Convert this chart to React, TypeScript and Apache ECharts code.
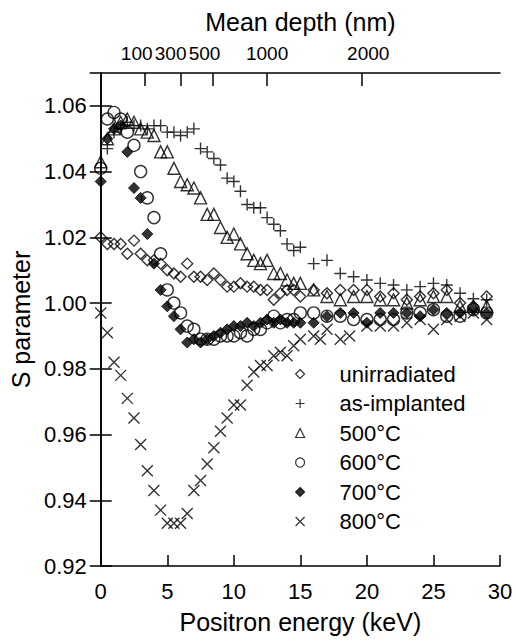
import { useEffect, useRef } from 'react';
import * as echarts from 'echarts';

// Positron energy (keV) vs S parameter
const unirradiated: number[][] = [
  [0, 1.020], [0.5, 1.018], [1, 1.018], [1.5, 1.018], [2, 1.015], [2.5, 1.019], [3, 1.015], [3.5, 1.013],
  [4, 1.013], [4.5, 1.012], [5, 1.010], [5.5, 1.009], [6, 1.008], [6.5, 1.012], [7, 1.008], [7.5, 1.008],
  [8, 1.007], [8.5, 1.009], [9, 1.007], [9.5, 1.005], [10, 1.005], [10.5, 1.006], [11, 1.005], [11.5, 1.005],
  [12, 1.004], [12.5, 1.004], [13, 1.001], [13.5, 1.003], [14, 1.004], [14.5, 1.004], [15, 1.002], [16, 1.004],
  [17, 1.003], [18, 1.004], [19, 1.004], [20, 1.004], [21, 1.002], [22, 1.003], [23, 1.001], [24, 1.002],
  [25, 1.003], [26, 1.004], [27, 1.000], [28, 0.999], [29, 1.002],
];
const asImplanted: number[][] = [
  [0.5, 1.047], [1, 1.052], [1.5, 1.053], [2, 1.055], [2.5, 1.054], [3, 1.054], [3.5, 1.053], [4, 1.054],
  [4.5, 1.054], [5, 1.052], [5.5, 1.052], [6, 1.051], [6.5, 1.052], [7, 1.053], [7.5, 1.047], [8, 1.046],
  [8.5, 1.044], [9, 1.042], [9.5, 1.038], [10, 1.037], [10.5, 1.034], [11, 1.030], [11.5, 1.029], [12, 1.029],
  [12.5, 1.026], [13, 1.024], [13.5, 1.022], [14, 1.018], [14.5, 1.016], [15, 1.017], [16, 1.012], [17, 1.013],
  [18, 1.009], [19, 1.008], [20, 1.007], [21, 1.006], [22, 1.0055], [23, 1.004], [24, 1.005], [25, 1.006],
  [26, 1.0055], [27, 1.003], [28, 1.0013], [29, 1.001],
];
const annealed500: number[][] = [
  [0, 1.043], [0.5, 1.050], [1, 1.053], [1.5, 1.055], [2, 1.056], [2.5, 1.055], [3, 1.053], [3.5, 1.052],
  [4, 1.051], [4.5, 1.046], [5, 1.046], [5.5, 1.041], [6, 1.037], [6.5, 1.036], [7, 1.035], [7.5, 1.032],
  [8, 1.027], [8.5, 1.027], [9, 1.023], [9.5, 1.020], [10, 1.021], [10.5, 1.018], [11, 1.015], [11.5, 1.013],
  [12, 1.012], [12.5, 1.013], [13, 1.009], [13.5, 1.009], [14, 1.007], [14.5, 1.006], [15, 1.006], [16, 1.004],
  [17, 1.002], [18, 1.001], [19, 1.002], [20, 1.002], [21, 1.001], [22, 1.001], [23, 1.000], [24, 1.001],
  [25, 1.002], [26, 1.002], [27, 0.999], [28, 0.999], [29, 0.999],
];
const annealed600: number[][] = [
  [0, 1.041], [0.5, 1.056], [1, 1.058], [1.5, 1.056], [2, 1.052], [2.5, 1.048], [3, 1.040], [3.5, 1.032],
  [4, 1.026], [4.5, 1.015], [5, 1.004], [5.5, 1.000], [6, 0.997], [6.5, 0.993], [7, 0.992], [7.5, 0.989],
  [8, 0.989], [8.5, 0.989], [9, 0.990], [9.5, 0.990], [10, 0.990], [10.5, 0.991], [11, 0.990], [11.5, 0.992],
  [12, 0.992], [12.5, 0.994], [13, 0.996], [13.5, 0.994], [14, 0.995], [14.5, 0.995], [15, 0.997], [16, 0.997],
  [17, 0.996], [18, 0.996], [19, 0.995], [20, 0.995], [21, 0.995], [22, 0.995], [23, 0.997], [24, 0.997],
  [25, 0.998], [26, 0.996], [27, 0.996], [28, 0.998], [29, 0.997],
];
const annealed700: number[][] = [
  [0, 1.037], [0.5, 1.050], [1, 1.053], [1.5, 1.054], [2, 1.046], [2.5, 1.035], [3, 1.032], [3.5, 1.021],
  [4, 1.012], [4.5, 1.004], [5, 0.999], [5.5, 0.996], [6, 0.992], [6.5, 0.988], [7, 0.989], [7.5, 0.988],
  [8, 0.989], [8.5, 0.990], [9, 0.991], [9.5, 0.992], [10, 0.993], [10.5, 0.993], [11, 0.994], [11.5, 0.993],
  [12, 0.994], [12.5, 0.995], [13, 0.994], [13.5, 0.995], [14, 0.994], [14.5, 0.994], [15, 0.994], [16, 0.994],
  [17, 0.996], [18, 0.997], [19, 0.997], [20, 0.994], [21, 0.997], [22, 0.997], [23, 0.997], [24, 0.996],
  [25, 0.998], [26, 0.997], [27, 0.997], [28, 0.998], [29, 0.997],
];
const annealed800: number[][] = [
  [0, 0.997], [0.5, 0.991], [1, 0.982], [1.5, 0.978], [2, 0.971], [2.5, 0.965], [3, 0.957], [3.5, 0.949],
  [4, 0.943], [4.5, 0.937], [5, 0.933], [5.5, 0.933], [6, 0.933], [6.5, 0.936], [7, 0.943], [7.5, 0.946],
  [8, 0.951], [8.5, 0.956], [9, 0.961], [9.5, 0.965], [10, 0.969], [10.5, 0.969], [11, 0.975], [11.5, 0.979],
  [12, 0.981], [12.5, 0.981], [13, 0.984], [13.5, 0.985], [14, 0.984], [14.5, 0.987], [15, 0.989], [16, 0.990],
  [16.5, 0.989], [17, 0.992], [18, 0.989], [18.7, 0.990], [20, 0.993], [21, 0.993], [22, 0.993], [23, 0.994],
  [24, 0.995], [25, 0.992], [26, 0.995], [27, 0.996], [28, 0.997], [29, 0.995],
];

const seriesNames = ['unirradiated', 'as-implanted', '500°C', '600°C', '700°C', '800°C'];

// Top axis: mean depth (nm) ticks, the positron energy (keV) where each tick sits,
// and where each label is centred (the crowded labels are set side by side)
const depthLabels = [100, 300, 500, 1000, 2000];
const depthTickEnergies = [3.3, 6.0, 8.4, 12.5, 19.6];
const depthLabelEnergies = [2.7, 5.25, 7.8, 12.5, 20.1];

const xTicks = [0, 5, 10, 15, 20, 25, 30];
const yRange = [0.92, 1.07];

const PLUS = 'path://M0,5L10,5M5,0L5,10';
const CROSS = 'path://M0,0L10,10M0,10L10,0';
const FONT = 'Liberation Sans, Arial, Helvetica, sans-serif';

export default function App() {
  const ref = useRef<HTMLDivElement>(null);
  useEffect(() => {
    if (!ref.current) return;
    const chart = echarts.init(ref.current, undefined, { renderer: 'svg' });
    const hollow = { color: 'rgba(0,0,0,0)', borderColor: '#000', borderWidth: 1.4 };
    const specs = [
      { data: unirradiated, symbol: 'diamond', size: 11, style: hollow },
      { data: asImplanted, symbol: PLUS, size: 12, style: hollow },
      { data: annealed500, symbol: 'triangle', size: 12, style: hollow },
      { data: annealed600, symbol: 'circle', size: 12, style: hollow },
      { data: annealed700, symbol: 'diamond', size: 11, style: { color: '#000', borderColor: '#000', borderWidth: 1 } },
      { data: annealed800, symbol: CROSS, size: 11, style: hollow },
    ];
    const axisLineStyle = { color: '#000', width: 1.6 };
    const tickLine = { color: '#000', width: 1.5 };
    // depth ticks hanging down from the top frame (13 px long)
    const tickDepthValue = (13 / 461) * 0.14;
    const topTickMarks = depthTickEnergies.map((e) => [
      { coord: [e, yRange[1]] },
      { coord: [e, yRange[1] - tickDepthValue] },
    ]);
    chart.setOption({
      animation: false,
      backgroundColor: '#fff',
      textStyle: { fontFamily: FONT, color: '#000' },
      grid: { left: 100, right: 16, top: 73, bottom: 75, containLabel: false },
      legend: {
        orient: 'vertical',
        left: 295,
        top: 363,
        padding: 0,
        itemWidth: 9,
        itemHeight: 9,
        itemGap: 7.5,
        data: seriesNames,
        itemStyle: { borderWidth: 1.2 },
        textStyle: { fontFamily: FONT, fontSize: 22, color: '#000', lineHeight: 22, padding: [0, 0, 0, 30] },
      },
      xAxis: [
        {
          type: 'value',
          min: xTicks[0],
          max: xTicks[xTicks.length - 1],
          interval: 5,
          position: 'bottom',
          name: 'Positron energy (keV)',
          nameLocation: 'middle',
          nameGap: 43,
          nameTextStyle: { fontFamily: FONT, fontSize: 25, color: '#000' },
          axisLine: { show: true, lineStyle: axisLineStyle },
          axisTick: { show: true, inside: true, length: 11, lineStyle: tickLine },
          axisLabel: { fontFamily: FONT, fontSize: 22, color: '#000', margin: 14 },
          splitLine: { show: false },
        },
        {
          type: 'value',
          min: xTicks[0],
          max: xTicks[xTicks.length - 1],
          position: 'top',
          name: 'Mean depth (nm)',
          nameLocation: 'middle',
          nameGap: 39,
          nameTextStyle: { fontFamily: FONT, fontSize: 25, color: '#000' },
          axisLine: { show: true, lineStyle: axisLineStyle },
          axisTick: { show: false },
          axisLabel: {
            fontFamily: FONT, fontSize: 19, color: '#000', margin: 10,
            showMinLabel: true, showMaxLabel: true, hideOverlap: false,
            customValues: depthLabelEnergies,
            formatter: (v: number) => {
              const i = depthLabelEnergies.findIndex((e) => Math.abs(e - v) < 1e-6);
              return i >= 0 ? String(depthLabels[i]) : '';
            },
          },
          splitLine: { show: false },
        },
      ],
      yAxis: [
        {
          type: 'value',
          min: yRange[0],
          max: yRange[1],
          interval: 0.02,
          position: 'left',
          name: 'S parameter',
          nameLocation: 'middle',
          nameGap: 66,
          nameTextStyle: { fontFamily: FONT, fontSize: 25, color: '#000' },
          axisLine: { show: true, lineStyle: axisLineStyle },
          axisTick: { show: true, inside: true, length: 11, lineStyle: tickLine },
          axisLabel: {
            fontFamily: FONT, fontSize: 22, color: '#000', margin: 14, showMaxLabel: false,
            formatter: (v: number) => (v > 1.065 ? '' : v.toFixed(2)),
          },
          splitLine: { show: false },
        },
        {
          type: 'value',
          min: yRange[0],
          max: yRange[1],
          interval: 0.02,
          position: 'right',
          axisLine: { show: true, lineStyle: axisLineStyle },
          axisTick: { show: true, inside: true, length: 11, lineStyle: tickLine },
          axisLabel: { show: false },
          splitLine: { show: false },
        },
      ],
      series: specs.map((s, i) => ({
        type: 'scatter',
        name: seriesNames[i],
        data: s.data,
        symbol: s.symbol,
        symbolSize: s.size,
        itemStyle: s.style,
        xAxisIndex: 0,
        yAxisIndex: 0,
        ...(i === 0
          ? {
              markLine: {
                silent: true,
                symbol: ['none', 'none'],
                label: { show: false },
                lineStyle: { color: '#000', width: 1.5, type: 'solid' },
                emphasis: { disabled: true },
                data: topTickMarks,
              },
            }
          : {}),
      })),
    });
    return () => chart.dispose();
  }, []);
  return (
    <div
      ref={ref}
      style={{ position: 'fixed', left: 0, top: 0, width: 516, height: 641, background: '#fff' }}
    />
  );
}
